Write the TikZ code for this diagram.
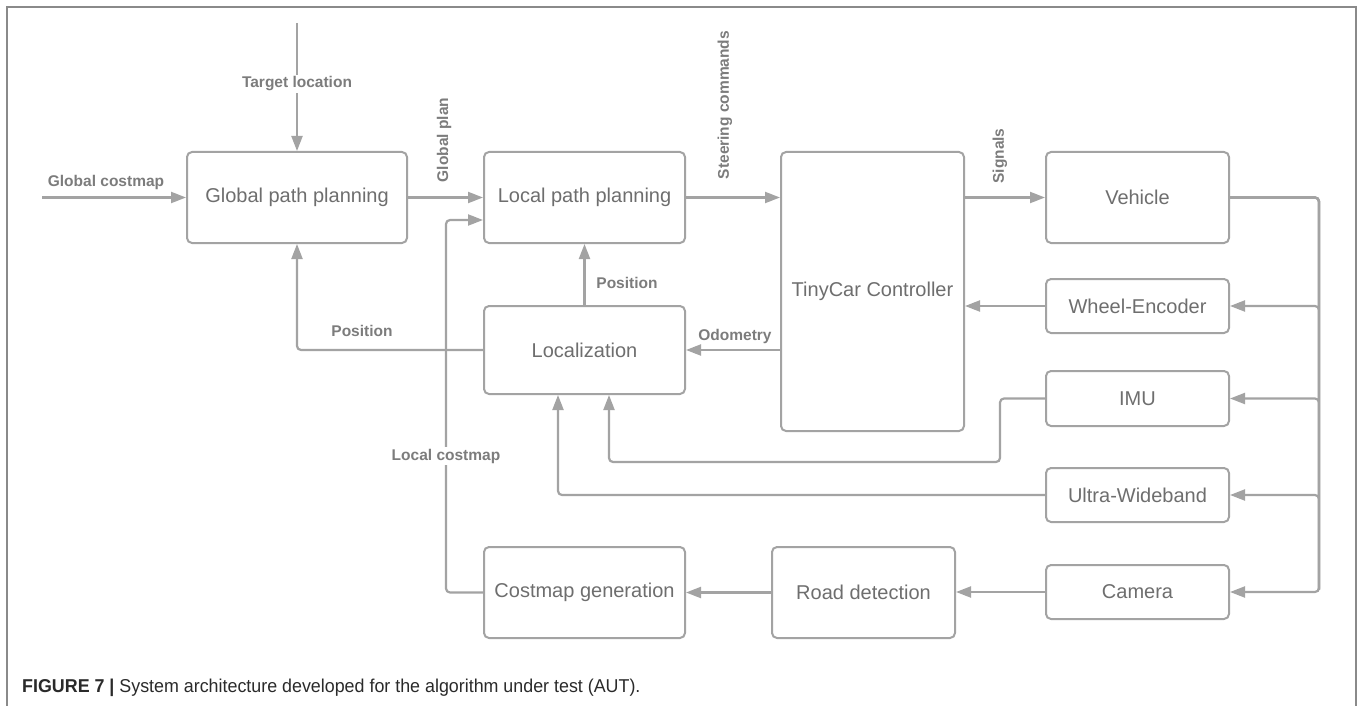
\documentclass[tikz,border=0pt]{standalone}
\usepackage{fontspec}
\setmainfont{Liberation Sans}
\newfontfamily\capfont{Liberation Sans}[FakeStretch=0.96]
\usetikzlibrary{arrows.meta,calc}
\definecolor{linec}{HTML}{A3A3A3}
\definecolor{boxtext}{HTML}{6E6E6E}
\definecolor{labtext}{HTML}{7C7C7C}
\definecolor{framec}{HTML}{8A8A8A}
\definecolor{captext}{HTML}{2A2A2A}
\tikzset{
  blk/.style={draw=linec, line width=2pt, rounded corners=5pt, fill=white,
    text=boxtext, font=\fontsize{20}{24}\selectfont, inner sep=0pt},
  arr/.style={draw=linec, line width=2.2pt, -{Triangle[length=15pt,width=11pt]}},
  wire/.style={draw=linec, line width=2.2pt},
  lab/.style={text=labtext, font=\fontsize{15.5}{18}\selectfont\bfseries, inner sep=2pt},
  labbg/.style={lab, fill=white},
}
\begin{document}
\begin{tikzpicture}[x=1pt,y=-1pt]
\useasboundingbox (0,0) rectangle (1357,706);
% frame
\draw[framec, line width=2pt] (7,706) -- (7,7) -- (1356,7) -- (1356,706);
% blocks
\node[blk, minimum width=220pt, minimum height=91pt] (gpp) at (297,197.5) {Global path planning};
\node[blk, minimum width=201pt, minimum height=91pt] (lpp) at (584.5,197.5) {Local path planning};
\node[blk, minimum width=183pt, minimum height=279pt] (tiny) at (872.5,291.5) {TinyCar Controller};
\node[blk, minimum width=183pt, minimum height=91pt] (veh) at (1137.5,197.5) {Vehicle};
\node[blk, minimum width=183pt, minimum height=54pt] (we) at (1137.5,306) {Wheel-Encoder};
\node[blk, minimum width=183pt, minimum height=55pt] (imu) at (1137.5,398.5) {IMU};
\node[blk, minimum width=183pt, minimum height=54pt] (uwb) at (1137.5,495) {Ultra-Wideband};
\node[blk, minimum width=183pt, minimum height=54pt] (cam) at (1137.5,592) {Camera};
\node[blk, minimum width=183pt, minimum height=91pt] (road) at (863.5,592.5) {Road detection};
\node[blk, minimum width=201pt, minimum height=91pt] (cmg) at (584.5,592.5) {Costmap generation};
\node[blk, minimum width=201pt, minimum height=88pt] (loc) at (584.5,350) {Localization};
% free ends and turning points
\coordinate (gcin) at (42,197.5);
\coordinate (tin) at (297,23);
\coordinate (bus) at (1319,592);
\coordinate (lc) at (446,220);
\coordinate (imuturn) at (1000,462);
% connectors
\draw[arr] (gcin) -- (gpp.west);
\node[lab] (lgc) at (106,182) {Global costmap};
\draw[arr] (tin) -- (gpp.north);
\node[labbg] (ltl) at (297,84) {Target location};
\draw[arr] (gpp.east) -- (lpp.west);
\node[lab, rotate=90] (lgp) at (444,140) {Global plan};
\draw[arr] (lpp.east) -- (lpp.east -| tiny.west);
\node[lab, rotate=90] (lsc) at (725,105) {Steering commands};
\draw[arr] (tiny.east |- veh.west) -- (veh.west);
\node[lab, rotate=90] (lsg) at (1000,156) {Signals};
\draw[arr, rounded corners=4pt] (veh.east) -| (bus) -- (cam.east);
\draw[arr, rounded corners=4pt] (veh.east) -| (bus) |- (we.east);
\draw[arr, rounded corners=4pt] (veh.east) -| (bus) |- (imu.east);
\draw[arr, rounded corners=4pt] (veh.east) -| (bus) |- (uwb.east);
\draw[arr] (we.west) -- (we.west -| tiny.east);
\draw[arr] (tiny.west |- loc.east) -- (loc.east);
\node[lab] (lod) at (735,336) {Odometry};
\draw[arr] (loc.north) -- (lpp.south);
\node[lab] (lp1) at (627,283) {Position};
\draw[arr, rounded corners=4pt] (loc.west) -| (gpp.south);
\node[lab] (lp2) at (362,331) {Position};
\draw[arr, rounded corners=4pt] (cmg.west) -| (lc) -- (lc -| lpp.west);
\node[labbg] (llc) at (446,456) {Local costmap};
\draw[arr, rounded corners=4pt] (imu.west) -| (imuturn) -| ($(loc.south)+(24.5,0)$);
\draw[arr, rounded corners=4pt] (uwb.west) -| ($(loc.south)+(-26.5,0)$);
\draw[arr] (cam.west) -- (cam.west -| road.east);
\draw[arr] (road.west) -- (cmg.east);
% caption
\node[anchor=west, inner sep=0pt, text=captext, font=\capfont\fontsize{18.6}{22}\selectfont] (cap) at (22,688)
  {\textbf{FIGURE 7 |} System architecture developed for the algorithm under test (AUT).};
\end{tikzpicture}
\end{document}
